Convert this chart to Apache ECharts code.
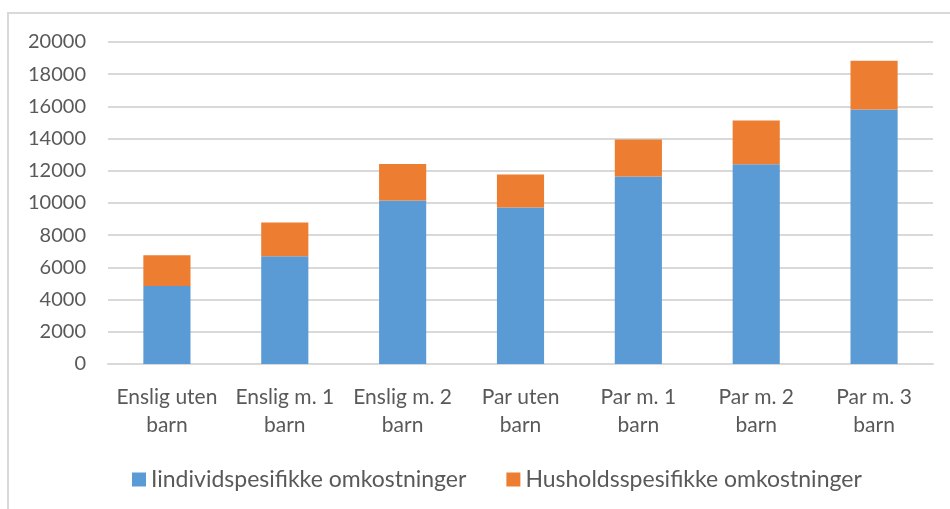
<!DOCTYPE html>
<html>
<head>
<meta charset="utf-8">
<script src="https://cdn.jsdelivr.net/npm/echarts@6/dist/echarts.min.js"></script>
<style>
    html, body { margin: 0; padding: 0; background: #ffffff; }
    #chart { width: 950px; height: 509px; }
</style>
</head>
<body>
<div id="chart"></div>
<script>
const kategorier = ['Enslig uten\nbarn', 'Enslig m. 1\nbarn', 'Enslig m. 2\nbarn', 'Par uten\nbarn', 'Par m. 1\nbarn', 'Par m. 2\nbarn', 'Par m. 3\nbarn'];
const individ = [4850, 6700, 10150, 9720, 11650, 12400, 15800];
const husholds = [1900, 2090, 2280, 2050, 2300, 2730, 3030];
const navnIndivid = 'Iindividspesifikke omkostninger';
const navnHusholds = 'Husholdsspesifikke omkostninger';

document.addEventListener('DOMContentLoaded', function () {
    const myChart = echarts.init(document.getElementById('chart'));
    const font = 'Lato, "Open Sans", sans-serif';

    const option = {
        animation: false,
        textStyle: { fontFamily: font },
        // ramme rundt diagrammet (venstre og topp)
        graphic: [{
            type: 'polyline',
            shape: { points: [[8, 509], [8, 13], [950, 13]] },
            style: { stroke: '#d9d9d9', lineWidth: 2, fill: null }
        }],
        grid: { left: 108, right: 17, top: 42, bottom: 145 },
        legend: {
            top: 463,
            left: 127,
            itemWidth: 14,
            itemHeight: 14,
            itemGap: 40,
            icon: 'rect',
            textStyle: { color: '#595959', fontSize: 23, fontFamily: font },
            data: [navnIndivid, navnHusholds]
        },
        xAxis: {
            type: 'category',
            data: kategorier,
            axisLine: { show: true, lineStyle: { color: '#d9d9d9', width: 2 } },
            axisTick: { show: false },
            axisLabel: { color: '#595959', fontSize: 21, lineHeight: 28, margin: 19, interval: 0 }
        },
        yAxis: {
            type: 'value',
            min: 0,
            max: 20000,
            interval: 2000,
            axisLine: { show: false },
            axisTick: { show: false },
            axisLabel: { color: '#595959', fontSize: 20, margin: 22, formatter: function (v) { return String(v); } },
            splitLine: { lineStyle: { color: '#d9d9d9', width: 2 } }
        },
        series: [{
            name: navnIndivid,
            type: 'bar',
            stack: 'sum',
            barWidth: '40%',
            itemStyle: { color: '#5b9bd5' },
            data: individ
        }, {
            name: navnHusholds,
            type: 'bar',
            stack: 'sum',
            itemStyle: { color: '#ed7d31' },
            data: husholds
        }]
    };

    myChart.setOption(option);
});
</script>
</body>
</html>
